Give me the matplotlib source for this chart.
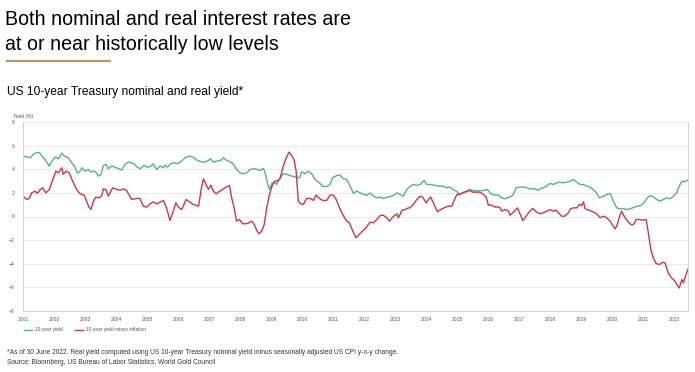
import numpy as np
import matplotlib.pyplot as plt

plt.rcParams['font.family'] = ['Liberation Sans', 'DejaVu Sans']

# nominal 10-year yield (%)
nom_years = [2001.00, 2001.12, 2001.23, 2001.33, 2001.44, 2001.53, 2001.66, 2001.76, 2001.85, 2001.92,
             2002.03, 2002.14, 2002.19, 2002.25, 2002.33, 2002.46, 2002.57, 2002.68, 2002.75, 2002.84,
             2002.91, 2003.00, 2003.11, 2003.19, 2003.27, 2003.35, 2003.43, 2003.52, 2003.59, 2003.68,
             2003.75, 2003.86, 2004.02, 2004.18, 2004.29, 2004.40, 2004.56, 2004.67, 2004.77, 2004.90,
             2004.99, 2005.10, 2005.20, 2005.31, 2005.42, 2005.53, 2005.58, 2005.66, 2005.76, 2005.87,
             2005.98, 2006.09, 2006.23, 2006.37, 2006.49, 2006.62, 2006.76, 2006.87, 2006.98, 2007.05,
             2007.14, 2007.25, 2007.38, 2007.46, 2007.57, 2007.68, 2007.78, 2007.89, 2008.00, 2008.11,
             2008.22, 2008.32, 2008.48, 2008.65, 2008.75, 2008.81, 2008.88, 2008.95, 2009.02, 2009.10,
             2009.18, 2009.29, 2009.40, 2009.51, 2009.67, 2009.81, 2009.92, 2009.99, 2010.10, 2010.20,
             2010.31, 2010.42, 2010.56, 2010.67, 2010.80, 2010.90, 2010.99, 2011.12, 2011.23, 2011.33,
             2011.44, 2011.55, 2011.66, 2011.76, 2011.92, 2012.09, 2012.19, 2012.30, 2012.41, 2012.52,
             2012.62, 2012.78, 2012.95, 2013.06, 2013.16, 2013.27, 2013.38, 2013.49, 2013.59, 2013.70,
             2013.81, 2013.94, 2014.02, 2014.15, 2014.29, 2014.43, 2014.56, 2014.66, 2014.77, 2014.87,
             2014.97, 2015.08, 2015.18, 2015.31, 2015.42, 2015.53, 2015.63, 2015.76, 2015.87, 2015.98,
             2016.09, 2016.23, 2016.33, 2016.44, 2016.55, 2016.69, 2016.80, 2016.91, 2017.03, 2017.19,
             2017.35, 2017.52, 2017.62, 2017.68, 2017.78, 2017.89, 2018.00, 2018.11, 2018.22, 2018.32,
             2018.43, 2018.54, 2018.65, 2018.75, 2018.86, 2018.97, 2019.08, 2019.18, 2019.29, 2019.40,
             2019.48, 2019.59, 2019.72, 2019.83, 2019.94, 2020.04, 2020.15, 2020.26, 2020.37, 2020.50,
             2020.61, 2020.72, 2020.82, 2020.92, 2021.03, 2021.14, 2021.23, 2021.33, 2021.44, 2021.55,
             2021.66, 2021.76, 2021.87, 2021.98, 2022.08, 2022.17, 2022.25, 2022.33, 2022.45]
nom_vals = [5.11, 5.06, 4.97, 5.25, 5.42, 5.40, 4.97, 4.63, 4.27, 4.63,
            5.03, 4.89, 5.06, 5.37, 5.11, 4.97, 4.55, 4.18, 3.67, 3.84,
            4.12, 3.84, 3.98, 3.76, 3.84, 3.76, 3.42, 3.56, 4.32, 4.41,
            4.04, 4.27, 4.12, 3.93, 4.41, 4.60, 4.49, 4.21, 4.04, 4.32,
            4.18, 4.21, 4.46, 3.98, 4.27, 4.12, 4.35, 4.18, 4.46, 4.55,
            4.46, 4.63, 4.97, 5.11, 5.03, 4.75, 4.63, 4.60, 4.75, 4.89,
            4.60, 4.69, 4.75, 4.97, 4.75, 4.63, 4.46, 3.98, 3.70, 3.62,
            3.70, 3.98, 4.04, 3.90, 4.07, 3.70, 2.85, 2.29, 2.77, 2.94,
            2.71, 3.28, 3.62, 3.56, 3.42, 3.33, 3.28, 3.79, 3.62, 3.84,
            3.62, 3.14, 2.85, 2.54, 2.54, 2.71, 3.28, 3.47, 3.50, 3.19,
            3.14, 2.57, 1.95, 2.15, 1.95, 1.78, 2.00, 1.72, 1.58, 1.64,
            1.53, 1.64, 1.78, 2.00, 1.86, 1.72, 2.29, 2.57, 2.71, 2.63,
            2.71, 3.05, 2.71, 2.71, 2.63, 2.57, 2.57, 2.43, 2.49, 2.29,
            2.15, 1.92, 2.00, 2.15, 2.29, 2.20, 2.15, 2.20, 2.20, 2.29,
            1.92, 1.81, 1.81, 1.58, 1.50, 1.64, 1.81, 2.43, 2.49, 2.49,
            2.34, 2.34, 2.20, 2.37, 2.43, 2.57, 2.80, 2.71, 2.85, 2.91,
            2.85, 2.91, 2.99, 3.14, 2.91, 2.71, 2.71, 2.57, 2.49, 2.23,
            2.06, 1.58, 1.72, 1.86, 1.95, 1.30, 0.73, 0.65, 0.65, 0.59,
            0.68, 0.79, 0.88, 0.93, 1.16, 1.58, 1.78, 1.67, 1.44, 1.30,
            1.44, 1.58, 1.50, 1.72, 2.00, 2.57, 2.99, 2.94, 3.08]

# 10-year yield minus inflation (%)
real_years = [2001.00, 2001.12, 2001.20, 2001.28, 2001.39, 2001.46, 2001.55, 2001.63, 2001.74, 2001.85,
              2001.96, 2002.06, 2002.14, 2002.25, 2002.30, 2002.39, 2002.49, 2002.60, 2002.73, 2002.84,
              2002.97, 2003.05, 2003.13, 2003.19, 2003.27, 2003.35, 2003.46, 2003.54, 2003.59, 2003.68,
              2003.75, 2003.89, 2004.02, 2004.13, 2004.24, 2004.34, 2004.51, 2004.67, 2004.77, 2004.88,
              2004.99, 2005.10, 2005.20, 2005.31, 2005.42, 2005.53, 2005.63, 2005.74, 2005.83, 2005.93,
              2006.01, 2006.12, 2006.26, 2006.37, 2006.49, 2006.66, 2006.76, 2006.82, 2006.90, 2006.98,
              2007.06, 2007.14, 2007.23, 2007.35, 2007.52, 2007.66, 2007.73, 2007.81, 2007.89, 2007.98,
              2008.09, 2008.24, 2008.38, 2008.46, 2008.54, 2008.61, 2008.70, 2008.78, 2008.86, 2008.95,
              2009.05, 2009.13, 2009.22, 2009.29, 2009.38, 2009.48, 2009.58, 2009.66, 2009.74, 2009.81,
              2009.88, 2009.96, 2010.04, 2010.15, 2010.26, 2010.37, 2010.45, 2010.56, 2010.67, 2010.80,
              2010.90, 2011.01, 2011.10, 2011.20, 2011.31, 2011.44, 2011.53, 2011.63, 2011.74, 2011.82,
              2011.92, 2012.06, 2012.19, 2012.30, 2012.41, 2012.52, 2012.62, 2012.73, 2012.82, 2012.92,
              2013.06, 2013.11, 2013.22, 2013.32, 2013.43, 2013.48, 2013.59, 2013.70, 2013.81, 2013.91,
              2014.00, 2014.08, 2014.15, 2014.26, 2014.37, 2014.47, 2014.58, 2014.72, 2014.83, 2014.90,
              2014.99, 2015.08, 2015.18, 2015.29, 2015.40, 2015.51, 2015.61, 2015.74, 2015.83, 2015.94,
              2016.01, 2016.12, 2016.23, 2016.30, 2016.39, 2016.44, 2016.55, 2016.66, 2016.71, 2016.80,
              2016.87, 2016.95, 2017.03, 2017.12, 2017.23, 2017.33, 2017.44, 2017.55, 2017.66, 2017.78,
              2017.89, 2018.00, 2018.11, 2018.19, 2018.27, 2018.37, 2018.48, 2018.59, 2018.66, 2018.75,
              2018.86, 2018.95, 2019.02, 2019.08, 2019.13, 2019.24, 2019.34, 2019.45, 2019.53, 2019.61,
              2019.72, 2019.83, 2019.94, 2020.02, 2020.10, 2020.17, 2020.26, 2020.31, 2020.39, 2020.50,
              2020.61, 2020.69, 2020.78, 2020.88, 2020.99, 2021.10, 2021.17, 2021.25, 2021.33, 2021.42,
              2021.53, 2021.63, 2021.71, 2021.82, 2021.92, 2022.03, 2022.11, 2022.17, 2022.25, 2022.30,
              2022.35, 2022.45]
real_vals = [1.72, 1.44, 1.53, 2.00, 2.15, 1.95, 2.26, 2.43, 2.00, 2.29,
             3.14, 3.84, 3.70, 4.12, 3.56, 3.84, 3.70, 2.99, 2.29, 1.92,
             1.81, 1.30, 0.79, 0.59, 1.30, 1.64, 1.58, 1.78, 2.34, 2.26,
             1.72, 2.43, 2.29, 2.23, 2.34, 2.20, 1.44, 1.53, 1.53, 0.88,
             0.79, 1.07, 1.24, 1.07, 1.21, 1.36, 0.73, -0.34, 0.31, 1.16,
             0.79, 0.59, 1.44, 1.24, 1.02, 0.88, 2.49, 3.19, 2.71, 2.29,
             2.66, 2.15, 1.92, 2.15, 2.43, 2.63, 1.58, 0.73, -0.40, -0.25,
             -0.62, -0.59, -0.40, -0.68, -1.19, -1.47, -1.24, -0.68, 0.73, 1.86,
             2.71, 2.99, 3.05, 3.19, 4.12, 4.90, 5.45, 5.17, 4.83, 3.84,
             1.30, 1.07, 1.02, 1.53, 1.53, 1.36, 1.81, 1.53, 1.36, 1.36,
             1.81, 1.81, 1.44, 0.79, 0.17, -0.40, -0.54, -1.19, -1.80, -1.60,
             -1.30, -0.96, -0.48, -0.54, -0.25, 0.08, 0.11, -0.11, -0.40, -0.06,
             0.23, -0.11, 0.51, 0.59, 0.73, 0.73, 1.02, 1.44, 1.72, 1.58,
             1.16, 1.44, 1.64, 1.02, 0.40, 0.59, 0.73, 0.88, 0.88, 1.30,
             1.86, 1.86, 2.00, 2.09, 2.20, 2.06, 2.06, 2.06, 1.92, 1.64,
             0.96, 0.96, 0.79, 0.82, 0.73, 0.45, 0.59, 0.45, 0.11, 0.31,
             0.51, 0.73, 0.23, -0.34, 0.03, 0.40, 0.68, 0.40, 0.23, 0.31,
             0.45, 0.59, 0.45, 0.54, 0.31, 0.03, 0.03, 0.31, 0.65, 0.73,
             0.73, 1.02, 0.93, 1.24, 0.65, 0.54, 0.45, 0.31, 0.17, -0.11,
             0.03, -0.11, -0.40, -0.76, -1.05, -0.68, 0.17, 0.45, 0.03, -0.40,
             -0.68, -0.68, -0.25, -0.25, -0.31, -0.25, -1.38, -2.80, -3.50, -3.98,
             -4.07, -3.87, -3.93, -4.83, -5.20, -5.48, -5.85, -6.05, -5.34, -5.62,
             -5.20, -4.44]

year_ticks = list(range(2001, 2023))
y_ticks = [-8, -6, -4, -2, 0, 2, 4, 6, 8]

green = '#55b57a'
red = '#c8384f'
grey_txt = '#555555'

fig = plt.figure(figsize=(6.95, 3.72), dpi=100)
ax = fig.add_axes([23/695, 1 - 311/372, (688 - 23)/695, (311 - 122)/372])

ax.plot(nom_years, nom_vals, color=green, lw=1.0, label='10-year yield')
ax.plot(real_years, real_vals, color=red, lw=1.0, label='10-year yield minus inflation')

ax.set_xlim(2001, 2022.45)
ax.set_ylim(-8, 8)
ax.set_xticks(year_ticks)
ax.set_xticklabels([str(y) for y in year_ticks])
ax.set_yticks(y_ticks)
ax.grid(axis='y', color='#e8e8e8', lw=0.6)
ax.set_axisbelow(True)
ax.tick_params(length=0, labelsize=3.6, labelcolor=grey_txt)
ax.tick_params(axis='x', pad=4)
ax.tick_params(axis='y', pad=6)
for s in ['left', 'bottom', 'right']:
    ax.spines[s].set_color('#d4d4d4')
    ax.spines[s].set_linewidth(0.7)
ax.spines['top'].set_visible(False)

fig.text(13/695, 1 - 117/372, 'Yield (%)', fontsize=3.6, color=grey_txt, va='center')

leg = fig.legend(loc='center left', bbox_to_anchor=(20/695, 1 - 330/372), ncol=2,
                 frameon=False, fontsize=3.4, handlelength=1.7, columnspacing=2.7,
                 handletextpad=0.5)
for t in leg.get_texts():
    t.set_color(grey_txt)

# titles
fig.text(5/695, 1 - 25/372, 'Both nominal and real interest rates are', fontsize=14.1,
         color='black', va='baseline')
fig.text(5/695, 1 - 50/372, 'at or near historically low levels', fontsize=14.1,
         color='black', va='baseline')
fig.add_artist(plt.Line2D([7/695, 110/695], [1 - 61/372, 1 - 61/372], color='#b09a62', lw=1.6))
fig.text(7/695, 1 - 92/372, 'US 10-year Treasury nominal and real yield*', fontsize=8.65,
         color='black', va='center')

fig.text(7/695, 1 - 352/372, '*As of 30 June 2022. Real yield computed using US 10-year Treasury '
         'nominal yield minus seasonally adjusted US CPI y-o-y change.', fontsize=4.8,
         color='#333333', va='center')
fig.text(7/695, 1 - 363/372, 'Source: Bloomberg, US Bureau of Labor Statistics, World Gold Council',
         fontsize=4.8, color='#333333', va='center')

fig.savefig('out.png', dpi=100)
